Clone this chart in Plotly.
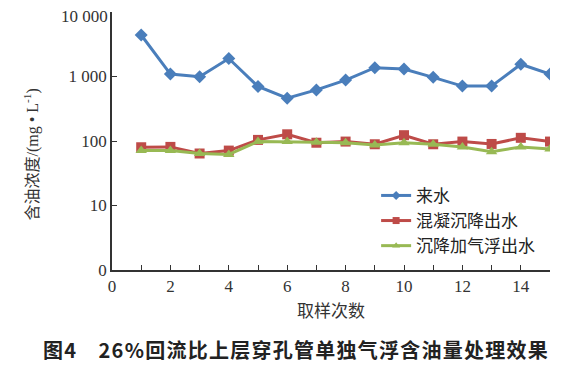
import plotly.graph_objects as go

samples = list(range(1, 16))
raw_water = [4400, 1090, 990, 1900, 700, 460, 620, 880, 1370, 1310, 970, 710, 710, 1550, 1090]
coag_settle = [80, 81, 64, 71, 104, 127, 94, 98, 89, 123, 89, 98, 90, 112, 98]
settle_flot = [71, 71, 64, 62, 98, 98, 96, 94, 87, 94, 89, 81, 68, 81, 75]

names = ["来水", "混凝沉降出水", "沉降加气浮出水"]
colors = ["#4A7EBB", "#BE4B48", "#98B954"]
symbols = ["diamond", "square", "triangle-up"]

y_tickvals = [1, 10, 100, 1000, 10000]
y_ticktext = ["0", "10", "100", "1 000", "10 000"]
x_tickvals = list(range(0, 16))
x_ticktext = [str(v) if v % 2 == 0 else "" for v in x_tickvals]

SERIF = "Liberation Serif, Times New Roman, serif"
FONT = "Liberation Serif, Noto Sans CJK SC"

fig = go.Figure()
for name, ys, c, s in zip(names, [raw_water, coag_settle, settle_flot], colors, symbols):
    fig.add_trace(go.Scatter(
        x=samples, y=ys, name=name, mode="lines+markers", showlegend=False,
        line=dict(color=c, width=3),
        marker=dict(symbol=s, size=10, color=c),
    ))
for name, c, s in zip(names, colors, symbols):
    fig.add_trace(go.Scatter(
        x=[None], y=[None], name=name, mode="lines+markers",
        line=dict(color=c, width=3),
        marker=dict(symbol=s, size=7, color=c),
    ))

# top tick label drawn separately so it stays inside the page
y_ticktext_axis = y_ticktext[:-1] + [""]

fig.update_layout(
    width=585, height=369,
    margin=dict(l=104, r=43, t=4, b=107, autoexpand=False),
    paper_bgcolor="white", plot_bgcolor="white",
    font=dict(family=FONT, size=16, color="#222"),
    showlegend=True,
    legend=dict(x=0.603, y=0.357, xanchor="left", yanchor="top",
                font=dict(family=FONT, size=17, color="#222"),
                bgcolor="rgba(0,0,0,0)", itemwidth=30, tracegroupgap=0),
    xaxis=dict(range=[0, 15], tickvals=x_tickvals, ticktext=x_ticktext,
               ticks="inside", ticklen=5, tickcolor="#333", automargin=False,
               showline=True, linecolor="#333", linewidth=1.5,
               showgrid=False, zeroline=False,
               tickfont=dict(family=SERIF, size=17, color="#333")),
    yaxis=dict(type="log", range=[0, 4], tickvals=y_tickvals, ticktext=y_ticktext_axis,
               ticks="inside", ticklen=5, tickcolor="#333", automargin=False,
               showline=True, linecolor="#333", linewidth=1.5,
               showgrid=False, zeroline=False,
               tickfont=dict(family=SERIF, size=17, color="#333")),
)

fig.add_annotation(text=y_ticktext[-1], xref="paper", yref="paper", x=0, y=1,
                   xanchor="right", yanchor="middle", xshift=-2, yshift=-4,
                   showarrow=False, font=dict(family=SERIF, size=17, color="#333"))
fig.add_annotation(text="取样次数", xref="paper", yref="paper", x=0.5, y=-0.16,
                   xanchor="center", yanchor="middle", showarrow=False,
                   font=dict(family=FONT, size=17, color="#333"))
fig.add_annotation(text="含油浓度/(mg • L<sup>-1</sup>)", xref="paper", yref="paper",
                   x=-0.183, y=0.447, xanchor="center", yanchor="middle", textangle=-90,
                   showarrow=False, font=dict(family=FONT, size=16, color="#333"))
title = "图4　26%回流比上层穿孔管单独气浮含油量处理效果"
title_spaced = "\u200a".join(title)
fig.add_annotation(text="<b>" + title_spaced + "</b>",
                   xref="paper", yref="paper", x=-0.163, y=-0.31,
                   xanchor="left", yanchor="middle", showarrow=False,
                   font=dict(family="Noto Sans CJK SC", size=20, color="#222"))

fig.write_html("out.html")
